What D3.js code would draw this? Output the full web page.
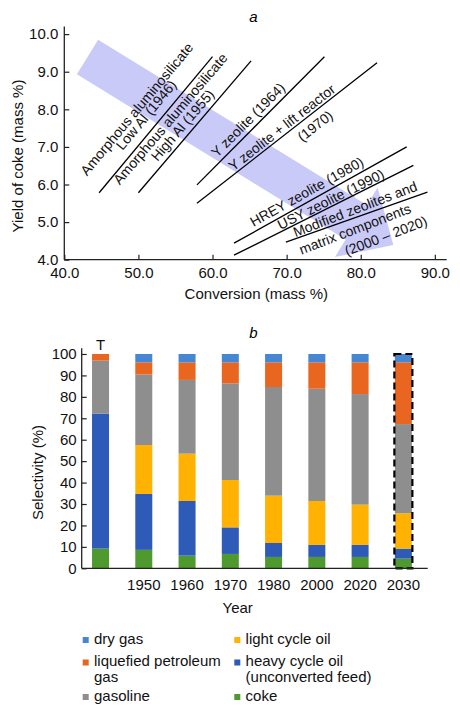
<!DOCTYPE html>
<html>
<head>
<meta charset="utf-8">
<script src="https://cdn.jsdelivr.net/npm/d3@7"></script>
<style>
  html, body { margin: 0; padding: 0; background: #fff; }
  svg { display: block; font-family: "Liberation Sans", Arial, Helvetica, sans-serif; }
</style>
</head>
<body>
<svg id="chart" width="460" height="715"></svg>
<script>
// ---------- Data: panel a ----------
const xTicksA = [40, 50, 60, 70, 80, 90];
const yTicksA = [4, 5, 6, 7, 8, 9, 10];
// catalyst trend lines: [conversion, coke yield] start and end
const lineStart = [[44.7, 5.78], [50.0, 5.78], [57.9, 5.99], [57.9, 5.50], [62.9, 4.44], [62.9, 4.12], [69.9, 4.47]];
const lineEnd   = [[60.0, 9.40], [65.2, 9.29], [75.1, 9.40], [82.2, 9.24], [86.2, 7.00], [87.1, 6.51], [89.0, 5.80]];
// annotation texts, associated line index, anchor in data coordinates
const labelText = ["Amorphous aluminosilicate", "Low Al (1946)", "Amorphous aluminosilicate", "High Al (1955)",
                   "Y zeolite (1964)", "Y zeolite + lift reactor", "(1970)",
                   "HREY zeolite (1980)", "USY zeolite (1990)",
                   "Modified zeolites and", "matrix components", "(2000 \u2013 2020)"];
const labelLine = [0, 0, 1, 1, 2, 3, 3, 4, 5, 6, 6, 6];
const labelPos  = [[49.77, 8.01], [51.03, 7.85], [54.30, 7.75], [55.95, 7.58],
                   [64.79, 7.72], [69.34, 7.52], [73.83, 7.56],
                   [72.71, 5.81], [75.96, 5.61],
                   [79.23, 5.35], [79.23, 4.82], [83.39, 4.64]];
// trend arrow (start centre and tip, data coords)
const arrowStart = [43.13, 9.39];
const arrowTip = [84.4, 4.39];

// ---------- Data: panel b ----------
const categories = ["T", "1950", "1960", "1970", "1980", "2000", "2020", "2030"];
const tickLabelsB = ["", "1950", "1960", "1970", "1980", "2000", "2020", "2030"];
const yTicksB = [0, 10, 20, 30, 40, 50, 60, 70, 80, 90, 100];
const coke           = [9.2, 8.6, 5.9, 6.7, 5.3, 5.3, 5.3, 4.5];
const heavyCycleOil  = [63.0, 26.1, 25.5, 12.4, 6.5, 5.6, 5.6, 4.7];
const lightCycleOil  = [0, 22.8, 22.1, 22.1, 22.1, 20.5, 18.8, 16.5];
const gasoline       = [24.7, 32.9, 34.4, 45.1, 50.7, 52.4, 51.6, 41.6];
const lpg            = [3.1, 5.7, 8.2, 9.8, 11.5, 12.3, 14.8, 28.8];
const dryGas         = [0, 3.9, 3.9, 3.9, 3.9, 3.9, 3.9, 3.9];
const seriesKeys = ["coke", "hco", "lco", "gasoline", "lpg", "dry"];
const seriesNames = {
  dry: ["dry gas"], lpg: ["liquefied petroleum", "gas"], gasoline: ["gasoline"],
  lco: ["light cycle oil"], hco: ["heavy cycle oil", "(unconverted feed)"], coke: ["coke"]
};
const colors = { coke: "#4f9a2e", hco: "#2e5bb8", lco: "#ffb201", gasoline: "#8e8e8e", lpg: "#e8661f", dry: "#4587d2" };

const svg = d3.select("#chart");
const FONT = 15;

// ================= Panel a =================
const xA = d3.scaleLinear().domain([40, 91.6]).range([64.3, 446.7]);
const yA = d3.scaleLinear().domain([4, 10.2]).range([259.7, 26.6]);
const gA = svg.append("g");

// arrow
(function () {
  const s = [xA(arrowStart[0]), yA(arrowStart[1])];
  const t = [xA(arrowTip[0]), yA(arrowTip[1])];
  const dx = t[0] - s[0], dy = t[1] - s[1], L = Math.hypot(dx, dy);
  const d = [dx / L, dy / L], n = [-d[1], d[0]];
  const headLen = 43.5, hw = 20.25, hh = 40.8;
  const b = [t[0] - d[0] * headLen, t[1] - d[1] * headLen];
  const P = (p, k) => [p[0] + n[0] * k, p[1] + n[1] * k];
  const pts = [P(s, -hw), P(b, -hw), P(b, -hh), t, P(b, hh), P(b, hw), P(s, hw)];
  gA.append("polygon").attr("points", pts.map(p => p.join(",")).join(" "))
    .attr("fill", "#cacaf8");
})();

// lines
gA.selectAll("line.trend").data(lineStart).enter().append("line")
  .attr("class", "trend")
  .attr("x1", d => xA(d[0])).attr("y1", d => yA(d[1]))
  .attr("x2", (d, i) => xA(lineEnd[i][0])).attr("y2", (d, i) => yA(lineEnd[i][1]))
  .attr("stroke", "#000").attr("stroke-width", 1.3);

// labels
function lineAngle(i) {
  const dx = xA(lineEnd[i][0]) - xA(lineStart[i][0]);
  const dy = yA(lineEnd[i][1]) - yA(lineStart[i][1]);
  return Math.atan2(dy, dx) * 180 / Math.PI;
}
gA.selectAll("text.lab").data(labelText).enter().append("text")
  .attr("class", "lab")
  .attr("transform", (d, i) => `translate(${xA(labelPos[i][0])},${yA(labelPos[i][1])}) rotate(${lineAngle(labelLine[i]) - (labelLine[i] === 6 ? 1.5 : 0)})`)
  .attr("text-anchor", "middle").attr("dominant-baseline", "central")
  .attr("font-size", 14).attr("fill", "#111").text(d => d);

// axes
const axA_x = gA.append("g").attr("transform", `translate(0,${yA(4)})`)
  .call(d3.axisBottom(xA).tickValues(xTicksA).tickSize(-5).tickFormat(d3.format(".1f")).tickPadding(6));
const axA_y = gA.append("g").attr("transform", `translate(${xA(40)},0)`)
  .call(d3.axisLeft(yA).tickValues(yTicksA).tickSize(-5).tickFormat(d3.format(".1f")).tickPadding(6));
[axA_x, axA_y].forEach(ax => {
  ax.select(".domain").attr("d", null);
  ax.selectAll("text").attr("font-size", FONT).attr("fill", "#111").attr("font-family", null);
  ax.selectAll("line").attr("stroke", "#222").attr("stroke-width", 1.2);
});
axA_x.append("line").attr("x1", xA(40)).attr("x2", xA(91.6)).attr("stroke", "#222").attr("stroke-width", 1.3);
axA_y.append("line").attr("y1", yA(4)).attr("y2", yA(10.2)).attr("stroke", "#222").attr("stroke-width", 1.3);
axA_x.selectAll(".tick text").attr("dy", "0.85em");

gA.append("text").attr("x", 253.3).attr("y", 22).attr("text-anchor", "middle")
  .attr("font-size", FONT).attr("font-style", "italic").text("a");
gA.append("text").attr("x", 256.3).attr("y", 298.5).attr("text-anchor", "middle")
  .attr("font-size", FONT).attr("fill", "#111").text("Conversion (mass %)");
gA.append("text").attr("transform", "translate(23,156) rotate(-90)").attr("text-anchor", "middle")
  .attr("font-size", FONT).attr("fill", "#111").text("Yield of coke (mass %)");

// ================= Panel b =================
const xB = d3.scaleBand().domain(categories).range([78.9, 425.0]).paddingInner(0.607).paddingOuter(0.3035);
const yB = d3.scaleLinear().domain([0, 102.7]).range([568.3, 348.2]);
const gB = svg.append("g");

const table = categories.map((c, i) => ({
  cat: c, coke: coke[i], hco: heavyCycleOil[i], lco: lightCycleOil[i],
  gasoline: gasoline[i], lpg: lpg[i], dry: dryGas[i]
}));
const stacked = d3.stack().keys(seriesKeys)(table);
gB.selectAll("g.series").data(stacked).enter().append("g")
  .attr("class", "series").attr("fill", d => colors[d.key])
  .selectAll("rect").data(d => d).enter().append("rect")
  .attr("x", d => xB(d.data.cat)).attr("width", xB.bandwidth())
  .attr("y", d => yB(d[1])).attr("height", d => Math.max(0, yB(d[0]) - yB(d[1])));

// dashed box around forecast bar
gB.append("rect")
  .attr("x", xB("2030") - 0.5).attr("width", xB.bandwidth() + 1)
  .attr("y", yB(100)).attr("height", yB(0) - yB(100))
  .attr("fill", "none").attr("stroke", "#000").attr("stroke-width", 2.2)
  .attr("stroke-dasharray", "7,4");

// "T" marker above first bar
gB.append("text").attr("x", xB("T") + xB.bandwidth() / 2).attr("y", yB(100) - 3.5)
  .attr("text-anchor", "middle").attr("font-size", FONT).attr("fill", "#111").text("T");

// axes
const axB_y = gB.append("g").attr("transform", "translate(81.7,0)")
  .call(d3.axisLeft(yB).tickValues(yTicksB).tickSize(-5).tickPadding(5));
axB_y.select(".domain").attr("d", null);
axB_y.append("line").attr("y1", yB(0)).attr("y2", yB(102.7)).attr("stroke", "#222").attr("stroke-width", 1.3);
axB_y.selectAll(".tick line").attr("stroke", "#222").attr("stroke-width", 1.2);
axB_y.selectAll("text").attr("font-size", FONT).attr("fill", "#111").attr("font-family", null);

const axB_x = gB.append("g").attr("transform", `translate(0,${yB(0)})`)
  .call(d3.axisBottom(xB).tickSize(0).tickPadding(9).tickFormat((d, i) => tickLabelsB[i]));
axB_x.select(".domain").attr("d", null);
axB_x.append("line").attr("x1", 81.7).attr("x2", 427.7).attr("stroke", "#222").attr("stroke-width", 1.3);
axB_x.selectAll("text").attr("font-size", FONT).attr("fill", "#111").attr("font-family", null).attr("dy", "0.85em");

gB.append("text").attr("x", 253.3).attr("y", 337.5).attr("text-anchor", "middle")
  .attr("font-size", FONT).attr("font-style", "italic").text("b");
gB.append("text").attr("x", 237.7).attr("y", 612.5).attr("text-anchor", "middle")
  .attr("font-size", FONT).attr("fill", "#111").text("Year");
gB.append("text").attr("transform", "translate(43,472.5) rotate(-90)").attr("text-anchor", "middle")
  .attr("font-size", FONT).attr("fill", "#111").text("Selectivity (%)");

// legend
const legendOrder = [["dry", 0, 0], ["lpg", 0, 1], ["gasoline", 0, 3], ["lco", 1, 0], ["hco", 1, 1], ["coke", 1, 3]];
const colX = [82.7, 234.3];
const rowBase = [643.5, 666, 682.3, 700.5];
const lg = gB.append("g");
legendOrder.forEach(([k, c, r]) => {
  lg.append("rect").attr("x", colX[c]).attr("y", rowBase[r] - 6.5).attr("width", 6).attr("height", 6)
    .attr("fill", colors[k]);
  seriesNames[k].forEach((t, j) => {
    lg.append("text").attr("x", colX[c] + 11.3).attr("y", rowBase[r + j])
      .attr("font-size", FONT).attr("fill", "#111").text(t);
  });
});
</script>
</body>
</html>
